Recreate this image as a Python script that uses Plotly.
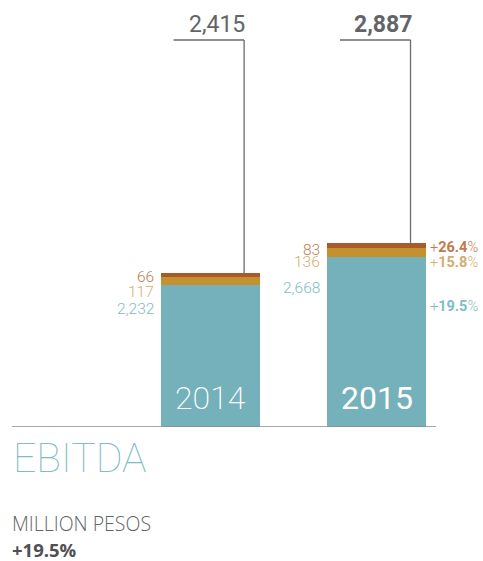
import plotly.graph_objects as go

years = ["2014", "2015"]
ebitda_a = [2232, 2668]   # teal segment
ebitda_b = [117, 136]     # gold segment
ebitda_c = [66, 83]       # brown segment
totals = [2415, 2887]
growth = ["+<b>19.5</b>%", "+<b>15.8</b>%", "+<b>26.4</b>%"]

TEAL, GOLD, BROWN = "#74b1bb", "#c4912f", "#a9592a"
TEAL_T, GOLD_T, BROWN_T = "#80bcc6", "#d3ad6c", "#c07a50"
GRAY = "#636468"
FONT = "Roboto"

fig = go.Figure()
for vals, col in [(ebitda_a, TEAL), (ebitda_b, GOLD), (ebitda_c, BROWN)]:
    fig.add_bar(x=years, y=vals, marker=dict(color=col, line=dict(width=0)),
                width=0.596, hoverinfo="skip")

W, H = 483, 561
ML, MR, MB = 12, 47, 134
fig.update_layout(
    width=W, height=H, barmode="stack", showlegend=False,
    margin=dict(l=ML, r=MR, t=0, b=MB, pad=0),
    plot_bgcolor="white", paper_bgcolor="white",
    xaxis=dict(type="category", range=[-1.196, 1.358], visible=False, fixedrange=True),
    yaxis=dict(range=[0, 6693], visible=False, fixedrange=True),
    font=dict(family=FONT),
)

ann = []
# left-side value labels
left_sets = [
    (0, [(ebitda_c[0], BROWN_T, -4), (ebitda_b[0], GOLD_T, -19.5), (ebitda_a[0], TEAL_T, -36.5)]),
    (1, [(ebitda_c[1], BROWN_T, -7), (ebitda_b[1], GOLD_T, -19), (ebitda_a[1], TEAL_T, -45)]),
]
for i, items in left_sets:
    for v, c, dy in items:
        ann.append(dict(x=i - 0.298, y=totals[i], xref="x", yref="y", text=f"{v:,}",
                        showarrow=False, xanchor="right", yanchor="middle", xshift=-6, yshift=dy,
                        borderpad=0,
                        font=dict(size=15.5, color=c, family=FONT, weight=300)))
# right-side growth labels for 2015
for txt, c, dy in [(growth[2], BROWN_T, -4.5), (growth[1], GOLD_T, -20), (growth[0], TEAL_T, -64)]:
    ann.append(dict(x=1 + 0.298, y=totals[1], xref="x", yref="y", text=txt,
                    showarrow=False, xanchor="left", yanchor="middle", xshift=3, yshift=dy,
                    borderpad=0,
                    font=dict(size=14.5, color=c, family=FONT, weight=300)))

# total labels and leader lines
line_x = [0.202, 1.2045]
top_y = 6066
for i in range(2):
    ann.append(dict(x=line_x[i], y=top_y, xref="x", yref="y",
                    text=(f"<b>{totals[i]:,}</b>" if i == 1 else f"{totals[i]:,}"),
                    showarrow=False, xanchor="right", yanchor="bottom", yshift=0, xshift=3,
                    font=dict(size=23, color=GRAY, family=FONT, weight=400)))
    fig.add_shape(type="line", xref="x", yref="y", x0=line_x[i], x1=line_x[i],
                  y0=totals[i], y1=top_y, line=dict(color="#6a6b6e", width=1.3))
    fig.add_shape(type="line", xref="x", yref="y", x0=line_x[i] - 0.425, x1=line_x[i],
                  y0=top_y, y1=top_y, line=dict(color="#6a6b6e", width=1.3))

# year labels inside bars
for i, y in enumerate(years):
    ann.append(dict(x=i, y=0, xref="x", yref="y", text=y, showarrow=False,
                    xanchor="center", yanchor="bottom", yshift=8,
                    font=dict(size=32, color="white", family=FONT, weight=(200 if i == 0 else 400))))

# baseline
fig.add_shape(type="line", xref="paper", yref="y", x0=0, x1=1, y0=0, y1=0,
              line=dict(color="#8a8b8e", width=1.5))

# titles below
ann.append(dict(x=11, y=H - 458, xref="paper", yref="paper", text="EBITDA", showarrow=False,
                xanchor="left", yanchor="middle",
                font=dict(size=41, color=TEAL_T, family=FONT, weight=100)))
ann.append(dict(x=10, y=H - 523, xref="paper", yref="paper", text="MILLION PESOS", showarrow=False,
                xanchor="left", yanchor="middle",
                font=dict(size=19.5, color=GRAY, family="Open Sans", weight=300)))
ann.append(dict(x=10, y=H - 549, xref="paper", yref="paper", text="<b>+19.5%</b>", showarrow=False,
                xanchor="left", yanchor="middle",
                font=dict(size=18.5, color="#4f5054", family="Open Sans")))

# convert pixel-positioned paper annotations to paper fractions
PW, PH = W - ML - MR, H - MB
for a in ann:
    if a["xref"] == "paper":
        a["x"] = (a["x"] - ML) / PW
        a["y"] = (a["y"] - MB) / PH
fig.update_layout(annotations=ann)

fig.write_html("out.html")
